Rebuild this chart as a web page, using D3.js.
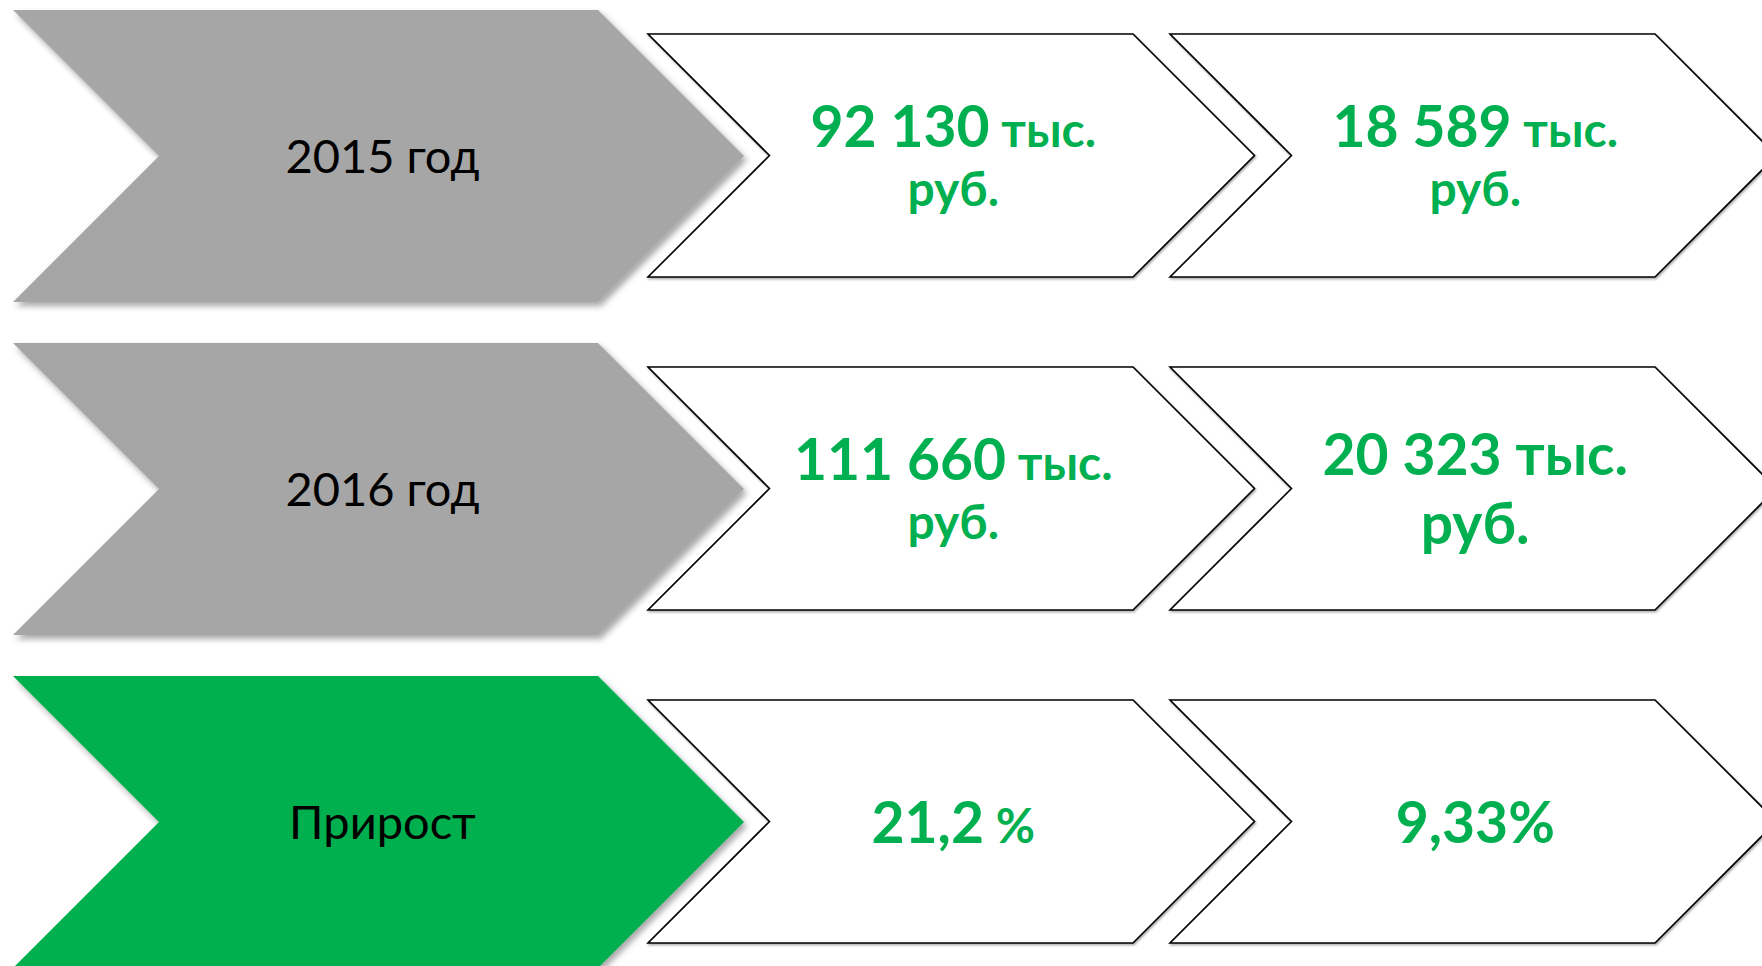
<!DOCTYPE html>
<html>
<head>
<meta charset="utf-8">
<script src="https://cdn.jsdelivr.net/npm/d3@7"></script>
<style>
  html, body { margin: 0; padding: 0; background: #fff; }
  svg { display: block; }
</style>
</head>
<body>
<svg id="chart" width="1762" height="966"></svg>
<script>
// Chevron table: row label + two value chevrons per row

const rowLabels = ['2015 год', '2016 год', 'Прирост'];
const colKeys = ['first', 'second'];
const firstValues = ['92 130 тыс. руб.', '111 660 тыс. руб.', '21,2 %'];
const secondValues = ['18 589 тыс. руб.', '20 323 тыс. руб.', '9,33%'];
const rowFills = ['#a6a6a6', '#a6a6a6', '#00b050'];

const GREEN = '#00b050';
const FONT = 'Lato, "Noto Sans", sans-serif';
const NUM_SIZE = 57;
const UNIT_SIZE = 48;
// cells where the units are set at the same size as the number
const fullSizeUnits = { '1-1': true, '2-1': true };

const svg = d3.select('#chart');

// rows: step 333, chevron height 292
const y = d3.scaleBand()
  .domain(rowLabels)
  .range([10, 10 + 333 * (3 - 41 / 333)])
  .paddingInner(41 / 333)
  .paddingOuter(0);

// white chevron columns: step 522, top edge 485
const x = d3.scaleBand()
  .domain(colKeys)
  .range([648, 648 + 522 * (2 - 37 / 522)])
  .paddingInner(37 / 522)
  .paddingOuter(0);

const defs = svg.append('defs');
const shadow = defs.append('filter')
  .attr('id', 'shadow')
  .attr('x', '-5%').attr('y', '-5%')
  .attr('width', '115%').attr('height', '120%');
shadow.append('feDropShadow')
  .attr('dx', 3).attr('dy', 4)
  .attr('stdDeviation', 3)
  .attr('flood-color', '#000')
  .attr('flood-opacity', 0.35);

const thinShadow = defs.append('filter')
  .attr('id', 'thin-shadow')
  .attr('x', '-5%').attr('y', '-5%')
  .attr('width', '115%').attr('height', '120%');
thinShadow.append('feDropShadow')
  .attr('dx', 1).attr('dy', 1.5)
  .attr('stdDeviation', 1)
  .attr('flood-color', '#000')
  .attr('flood-opacity', 0.35);

// chevron outline: left-top corner, top edge width, height; point depth = h/2
function chevron(x0, y0, w, h) {
  const d = h / 2;
  return `M${x0},${y0} L${x0 + w},${y0} L${x0 + w + d},${y0 + h / 2} ` +
    `L${x0 + w},${y0 + h} L${x0},${y0 + h} L${x0 + d},${y0 + h / 2} Z`;
}

function parseCell(str) {
  const m = str.match(/^([\d ,]+?)( ?)(тыс\.|%)(?: (руб\.))?$/);
  return { num: m[1], sep: m[2], unit: m[3], line2: m[4] || null };
}

// Left label chevrons
const labelH = y.bandwidth();
const labelW = 585;
const labelX = 13;

rowLabels.forEach((label, i) => {
  const top = y(label);
  const g = svg.append('g').attr('class', 'label-row');

  g.append('path')
    .attr('d', chevron(labelX, top, labelW, labelH))
    .attr('fill', rowFills[i])
    .attr('filter', 'url(#shadow)');

  g.append('text')
    .attr('x', labelX + labelW / 2 + labelH / 4 + 4)
    .attr('y', top + labelH / 2 + 17)
    .attr('text-anchor', 'middle')
    .attr('font-family', FONT)
    .attr('font-size', 47)
    .attr('fill', '#000')
    .text(label);
});

// Value chevrons
const cellH = labelH - 49;
const cellW = x.bandwidth();

rowLabels.forEach((label, i) => {
  const top = y(label) + 24;
  const cy = y(label) + labelH / 2;
  [firstValues[i], secondValues[i]].forEach((val, j) => {
    const x0 = x(colKeys[j]);
    const cx = x0 + cellW / 2 + cellH / 4 + 2;
    const g = svg.append('g').attr('class', 'value-cell');

    g.append('path')
      .attr('d', chevron(x0, top, cellW, cellH))
      .attr('fill', '#fff')
      .attr('stroke', '#000')
      .attr('stroke-width', 1.6)
      .attr('stroke-linejoin', 'miter')
      .attr('filter', 'url(#thin-shadow)');

    const cell = parseCell(val);
    const unitSize = fullSizeUnits[`${i}-${j}`] ? NUM_SIZE : UNIT_SIZE;
    const capH = 0.72 * NUM_SIZE;

    const text = g.append('text')
      .attr('text-anchor', 'middle')
      .attr('font-family', FONT)
      .attr('font-weight', 'bold')
      .attr('fill', GREEN);

    let baseline;
    const lineH = unitSize * 1.22;
    if (cell.line2) {
      baseline = cy - (lineH - capH) / 2;
    } else {
      baseline = cy + capH / 2;
    }

    const line1 = text.append('tspan')
      .attr('x', cx)
      .attr('y', baseline);
    line1.append('tspan')
      .attr('font-size', NUM_SIZE)
      .text(cell.num);
    line1.append('tspan')
      .attr('font-size', unitSize)
      .text(cell.sep + cell.unit);

    if (cell.line2) {
      text.append('tspan')
        .attr('x', cx)
        .attr('y', baseline + lineH)
        .attr('font-size', unitSize)
        .text(cell.line2);
    }
  });
});
</script>
</body>
</html>
